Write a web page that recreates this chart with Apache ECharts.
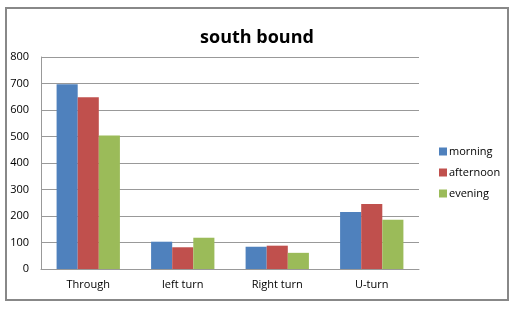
<!DOCTYPE html>
<html>
<head>
<meta charset="utf-8">
<script src="https://cdn.jsdelivr.net/npm/echarts@6/dist/echarts.min.js"></script>
<style>
  html, body { margin: 0; padding: 0; background: #fff; }
  #frame { position: absolute; left: 5px; top: 7px; width: 500px; height: 290px; border: 2px solid #888; }
  #chart { width: 519px; height: 313px; }
</style>
</head>
<body>
<div id="frame"></div>
<div id="chart"></div>
<script>
// 数据
var categories = ['Through', 'left turn', 'Right turn', 'U-turn'];
var morning = [697, 103, 84, 215];
var afternoon = [648, 82, 88, 245];
var evening = [504, 118, 61, 186];

var chart = echarts.init(document.getElementById('chart'));

var font = '"Open Sans", "Noto Sans", sans-serif';

var option = {
  animation: false,
  title: {
    text: 'south bound',
    left: 252,
    top: 24,
    textAlign: 'center',
    textStyle: { fontFamily: font, fontSize: 18, fontWeight: 'bold', color: '#000' }
  },
  legend: {
    orient: 'vertical',
    left: 434,
    top: 141,
    itemWidth: 8,
    itemHeight: 8,
    itemGap: 10,
    icon: 'rect',
    textStyle: { fontFamily: font, fontSize: 11, color: '#000', padding: [0, 0, 0, -3] },
    data: ['morning', 'afternoon', 'evening']
  },
  grid: { left: 41, right: 100, top: 57, bottom: 44 },
  xAxis: {
    type: 'category',
    data: categories,
    axisLine: { lineStyle: { color: '#999', width: 1 } },
    axisTick: { show: false },
    axisLabel: { fontFamily: font, fontSize: 11, color: '#000', margin: 10 }
  },
  yAxis: {
    type: 'value',
    min: 0,
    max: 800,
    interval: 100,
    axisLine: { show: true, lineStyle: { color: '#999' } },
    axisTick: { show: false },
    splitLine: { lineStyle: { color: '#999', width: 1 } },
    axisLabel: { fontFamily: font, fontSize: 11, color: '#000', margin: 12 }
  },
  series: [
    { name: 'morning', type: 'bar', data: morning, barGap: '0%', barCategoryGap: '33%', itemStyle: { color: '#4F81BD' } },
    { name: 'afternoon', type: 'bar', data: afternoon, itemStyle: { color: '#C0504D' } },
    { name: 'evening', type: 'bar', data: evening, itemStyle: { color: '#9BBB59' } }
  ]
};

chart.setOption(option);
</script>
</body>
</html>
